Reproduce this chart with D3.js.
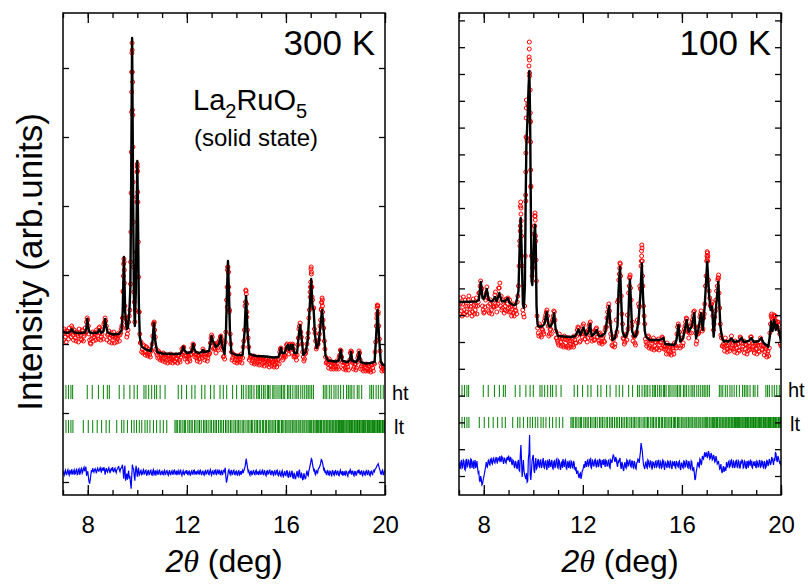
<!DOCTYPE html>
<html>
<head>
<meta charset="utf-8">
<script src="https://cdn.jsdelivr.net/npm/d3@7"></script>
<style>
  html, body { margin: 0; padding: 0; background: #fff; }
  svg { display: block; font-family: "Liberation Sans", Arial, Helvetica, sans-serif; }
</style>
</head>
<body>
<svg id="chart" width="808" height="585"></svg>
<script>
// ---------------- data ----------------
const xDomain = [7, 20];
const xMinorTicks = [7, 8, 9, 10, 11, 12, 13, 14, 15, 16, 17, 18, 19, 20];
const xTickLabels = [8, 12, 16, 20];

// observed scans: two interleaved grids (2theta start, step in deg)
const scanStartA = 7.0;
const scanStartB = 7.025;
const scanStep = 0.05;

// ---- 300 K ----
const calc300 = [
  [7.00,1500],[7.20,1490],[7.30,1505],[7.35,1530],[7.45,1495],[7.70,1490],[7.90,1495],[7.94,1540],[7.98,1630],[8.02,1540],
  [8.08,1495],[8.20,1490],[8.40,1495],[8.47,1525],[8.54,1490],[8.63,1510],[8.67,1570],[8.70,1630],[8.74,1560],[8.80,1497],
  [9.00,1475],[9.25,1480],[9.36,1510],[9.41,1700],[9.46,2250],[9.51,1700],[9.57,1530],[9.62,1540],[9.68,1700],[9.72,1950],
  [9.75,2900],[9.79,4440],[9.83,2900],[9.86,1900],[9.90,1560],[9.94,1900],[9.97,2600],[10.00,3210],[10.03,2600],[10.06,1800],
  [10.10,1450],[10.18,1350],[10.40,1320],[10.55,1310],[10.62,1420],[10.67,1590],[10.72,1420],[10.80,1300],[11.00,1285],[11.50,1280],
  [11.75,1285],[11.82,1320],[11.86,1355],[11.90,1320],[12.00,1290],[12.18,1300],[12.22,1330],[12.26,1380],[12.30,1330],[12.36,1300],
  [12.50,1290],[12.60,1300],[12.65,1320],[12.70,1300],[12.90,1310],[12.96,1400],[13.00,1460],[13.05,1410],[13.18,1350],[13.30,1380],
  [13.37,1460],[13.44,1350],[13.52,1280],[13.58,1500],[13.62,1900],[13.66,2210],[13.70,1900],[13.74,1500],[13.80,1290],[14.00,1270],
  [14.25,1270],[14.33,1500],[14.39,1860],[14.45,1500],[14.52,1280],[14.80,1260],[15.20,1255],[15.50,1245],[15.70,1250],[15.76,1300],
  [15.80,1340],[15.84,1290],[15.95,1290],[16.02,1350],[16.07,1370],[16.12,1320],[16.18,1370],[16.23,1330],[16.28,1370],[16.34,1290],
  [16.45,1290],[16.51,1450],[16.57,1570],[16.63,1450],[16.70,1270],[16.80,1300],[16.88,1420],[16.95,1700],[17.02,2030],[17.07,1760],
  [17.12,1720],[17.17,1480],[17.24,1340],[17.32,1380],[17.39,1560],[17.46,1720],[17.53,1500],[17.60,1260],[17.70,1215],[18.00,1205],
  [18.14,1215],[18.21,1320],[18.28,1210],[18.50,1200],[18.58,1220],[18.63,1300],[18.68,1210],[18.85,1200],[18.91,1230],[18.96,1300],
  [19.02,1200],[19.20,1185],[19.40,1190],[19.58,1200],[19.64,1450],[19.70,1720],[19.76,1450],[19.83,1200],[19.92,1170],[20.00,1170]
];
const obsScanA300 = [
  1480,1530,1450,1510,1470,1540,1490,1560,1470,1520,1440,1500,1460,1530,1470,1420,1510,1460,1540,1600,
  1620,1480,1390,1430,1500,1450,1470,1520,1460,1540,1490,1450,1520,1580,1640,1560,1470,1510,1440,1490,
  1450,1500,1440,1470,1430,1490,1470,1530,1640,2180,1760,1540,1480,1600,1720,2890,4100,2150,1600,2050,
  3150,2050,1480,1400,1330,1370,1300,1350,1280,1330,1270,1320,1380,1580,1520,1330,1270,1310,1240,1280,
  1230,1290,1240,1270,1220,1260,1230,1280,1220,1250,1210,1270,1230,1260,1220,1250,1330,1340,1290,1260,
  1240,1280,1230,1270,1340,1380,1300,1270,1240,1270,1230,1280,1260,1330,1270,1250,1290,1240,1280,1390,
  1470,1390,1340,1330,1370,1340,1400,1450,1430,1320,1260,1400,1820,2150,1880,1480,1300,1240,1270,1220,
  1260,1210,1250,1230,1280,1240,1410,1760,1880,1520,1350,1240,1250,1210,1260,1200,1240,1200,1250,1210,
  1230,1190,1240,1200,1230,1190,1220,1180,1230,1190,1210,1170,1220,1190,1230,1300,1340,1270,1240,1270,
  1330,1380,1320,1370,1340,1370,1330,1260,1250,1270,1440,1560,1500,1380,1250,1230,1290,1380,1490,1720,
  2000,1950,1740,1530,1410,1350,1380,1480,1620,1790,1620,1410,1250,1200,1180,1230,1160,1200,1150,1190,
  1160,1210,1150,1250,1320,1250,1170,1190,1140,1180,1150,1200,1290,1300,1190,1150,1180,1140,1240,1310,
  1220,1160,1130,1170,1140,1180,1130,1160,1120,1170,1140,1190,1300,1560,1760,1560,1310,1150,1130,1160,
  1140
];
const obsScanB300 = [
  1420,1510,1400,1480,1430,1500,1450,1540,1420,1490,1410,1480,1400,1490,1430,1520,1410,1480,1500,1640,
  1560,1420,1380,1470,1410,1490,1420,1500,1430,1550,1420,1480,1430,1600,1610,1420,1480,1400,1470,1390,
  1460,1390,1450,1400,1460,1410,1490,1560,1910,2120,1600,1450,1520,1660,1980,3900,3350,1800,1720,2850,
  2800,1700,1390,1300,1290,1360,1270,1350,1260,1300,1250,1310,1460,1590,1450,1290,1240,1300,1220,1270,
  1210,1280,1200,1250,1190,1270,1200,1240,1190,1260,1200,1240,1190,1270,1200,1280,1300,1350,1230,1270,
  1200,1260,1210,1280,1320,1370,1250,1280,1210,1260,1200,1280,1240,1310,1220,1280,1210,1270,1290,1440,
  1450,1330,1380,1290,1390,1320,1420,1460,1360,1250,1230,1500,1950,2100,1720,1380,1220,1280,1200,1250,
  1190,1260,1200,1250,1190,1350,1520,1800,1700,1440,1220,1260,1190,1240,1180,1250,1180,1230,1170,1240,
  1170,1220,1160,1230,1170,1210,1150,1220,1160,1200,1150,1200,1150,1220,1180,1330,1290,1220,1260,1250,
  1370,1330,1280,1380,1290,1380,1250,1280,1220,1370,1530,1590,1450,1300,1210,1280,1320,1440,1640,1900,
  2080,1820,1740,1490,1330,1370,1420,1560,1730,1760,1540,1330,1190,1220,1140,1200,1130,1190,1130,1180,
  1130,1190,1130,1270,1310,1200,1130,1190,1120,1180,1120,1220,1310,1210,1130,1180,1120,1200,1270,1290,
  1130,1180,1110,1170,1110,1170,1110,1160,1100,1170,1110,1180,1400,1680,1700,1430,1190,1110,1150,1110
];
const obsPeaks300 = [
  [9.43,1900],[9.44,2060],[9.46,2230],[9.47,2200],[9.48,1990],[9.52,1640],
  [9.73,2200],[9.74,2500],[9.76,3300],[9.77,3700],[9.775,4100],[9.78,4290],[9.79,4390],[9.795,4320],[9.805,3720],[9.81,4000],
  [9.82,3670],[9.83,3000],[9.84,2600],[9.86,1900],
  [9.96,2300],[9.98,2800],[9.99,3100],[10.00,3180],[10.01,3110],[10.02,2900],[10.04,2400],[10.07,1700],
  [10.66,1570],[10.68,1600],
  [13.63,1750],[13.64,2120],[13.66,2150],[13.68,2100],[13.69,1950],[13.71,1700],
  [14.37,1800],[14.38,1920],[14.39,1910],[14.41,1780],[14.42,1650],
  [16.98,1850],[16.99,1950],[17.01,2130],[17.02,2150],[17.03,2100],[17.04,1950],[17.06,1850],
  [17.43,1720],[17.44,1800],[17.46,1840],[17.47,1820],[17.48,1700],
  [19.67,1640],[19.68,1740],[19.69,1770],[19.71,1760],[19.72,1680]
];
// residual (obs - calc) on the A and B grids
const diffA300 = [
  20,-25,25,-20,30,-25,15,35,-20,30,-10,35,-15,40,0,45,10,55,35,-30,
  15,-90,-70,25,45,5,40,-5,45,15,50,0,40,55,-20,45,5,50,-5,40,
  55,5,45,0,40,60,10,45,80,-60,70,-40,-70,20,-30,-160,80,40,-80,70,
  -40,50,-15,25,-15,30,-10,25,-20,20,-15,25,-25,30,-10,-30,20,-15,25,-20,
  15,-20,25,-15,20,-25,25,-20,20,-15,25,-10,-25,20,-15,25,-30,20,-20,15,
  25,-20,15,-25,20,-15,25,-10,-20,20,-15,25,-20,15,-25,20,-10,25,-20,30,
  -25,20,-15,25,-20,15,30,-25,20,-15,25,50,-100,-30,30,-20,20,-15,25,-20,
  15,-25,20,-10,-20,25,20,60,140,50,20,-25,15,-15,20,-20,25,-10,-25,20,
  -15,25,-20,15,-30,20,-10,25,-20,15,-25,20,-15,25,-30,15,-35,20,-40,15,
  -30,25,-50,10,-35,20,-60,-20,-55,15,-40,30,-50,-25,-65,-30,-55,20,-30,40,
  100,130,50,30,-20,15,30,50,90,125,70,40,20,-20,15,-25,10,-30,15,-25,
  20,-20,15,-30,25,-15,-30,15,-25,10,-35,15,30,-20,15,-30,10,-25,20,30,
  -20,15,-30,10,-25,20,-20,15,-30,15,-20,25,35,55,80,65,25,-15,25,-20,
  15
];
const diffB300 = [
  -10,10,-15,15,-10,20,-20,5,15,-15,25,-20,30,-20,35,-5,40,15,60,-10,
  -40,-110,-20,5,20,30,15,30,20,35,25,45,20,30,25,15,35,20,30,25,
  25,35,15,30,55,25,40,60,20,30,-80,-10,-20,-60,-100,-40,50,-30,10,20,
  20,-25,15,-20,15,-15,20,-25,15,-20,20,-20,15,-20,25,5,-15,20,-20,10,
  -15,15,-20,15,-10,5,-15,10,-15,20,-15,20,5,-15,20,-15,5,-15,10,-10,
  -15,10,-20,10,-15,20,-15,15,5,-10,20,-15,10,-15,10,-15,20,-15,15,-10,
  15,-15,20,-15,25,-15,5,15,-20,20,10,-40,-70,20,-5,15,-20,20,-15,10,
  -20,15,-20,15,10,-5,40,100,90,10,-10,10,-20,15,-15,15,-15,15,5,-15,
  15,-15,20,-20,15,-15,20,-15,15,-15,15,-20,20,-20,5,-25,5,-30,-5,-25,
  10,-30,0,-40,5,-45,0,-60,-10,-30,15,-45,0,-70,-5,-60,-10,-20,15,70,
  140,80,20,-10,20,-10,45,70,130,100,30,0,-15,20,-20,15,-20,20,-15,15,
  -15,15,-25,10,-10,15,-10,-20,15,-20,5,-10,15,10,-20,10,-25,15,-5,0,
  10,-20,15,-20,15,-15,20,-20,10,-15,15,10,40,70,90,40,-10,15,-20,20
];

// ---- 100 K ----
const calc100 = [
  [7.00,1740],[7.70,1745],[7.80,1760],[7.88,1940],[7.95,1780],[8.00,1770],[8.05,1800],[8.12,1870],[8.20,1760],[8.35,1745],
  [8.45,1790],[8.52,1750],[8.63,1830],[8.72,1750],[8.85,1745],[8.97,1780],[9.05,1730],[9.20,1710],[9.30,1715],[9.40,1850],
  [9.45,2300],[9.49,2580],[9.53,2250],[9.58,1720],[9.62,1680],[9.66,1900],[9.69,2700],[9.72,3300],[9.77,3600],[9.81,3900],
  [9.84,4050],[9.87,3600],[9.90,2700],[9.93,1950],[9.96,1910],[10.00,2100],[10.04,2420],[10.07,2510],[10.10,2300],[10.13,1700],
  [10.17,1520],[10.20,1495],[10.35,1495],[10.45,1520],[10.54,1640],[10.62,1500],[10.70,1495],[10.78,1540],[10.84,1630],[10.90,1470],
  [11.00,1400],[11.50,1390],[11.70,1400],[11.82,1465],[11.90,1410],[12.02,1485],[12.12,1410],[12.22,1430],[12.29,1520],[12.36,1400],
  [12.46,1420],[12.56,1460],[12.65,1400],[12.76,1400],[12.90,1430],[13.00,1600],[13.06,1700],[13.12,1500],[13.20,1360],[13.30,1380],
  [13.40,1500],[13.44,1850],[13.50,2090],[13.55,1750],[13.60,1450],[13.66,1400],[13.72,1390],[13.82,1450],[13.86,1750],[13.90,1965],
  [13.94,1750],[13.99,1450],[14.07,1393],[14.15,1400],[14.25,1560],[14.32,1800],[14.38,2125],[14.43,1800],[14.50,1450],[14.55,1393],
  [14.70,1360],[15.10,1360],[15.20,1370],[15.25,1380],[15.32,1320],[15.70,1310],[15.78,1360],[15.86,1510],[15.93,1343],[16.05,1380],
  [16.19,1560],[16.27,1443],[16.40,1500],[16.50,1633],[16.57,1377],[16.66,1460],[16.77,1627],[16.84,1460],[16.92,1700],[17.02,2143],
  [17.10,1800],[17.16,1660],[17.22,1693],[17.28,1393],[17.38,1700],[17.47,1943],[17.55,1500],[17.62,1377],[17.70,1343],[17.80,1350],
  [17.90,1345],[18.00,1375],[18.10,1340],[18.30,1350],[18.40,1380],[18.50,1340],[18.70,1350],[18.80,1380],[18.90,1340],[19.10,1350],
  [19.20,1380],[19.30,1330],[19.49,1293],[19.55,1400],[19.60,1543],[19.66,1450],[19.73,1560],[19.79,1460],[19.85,1510],[19.92,1450],
  [20.00,1343]
];
const obsScanA100 = [
  1690,1780,1650,1720,1660,1760,1640,1700,1800,1670,1730,1640,1710,1660,1780,1700,1830,1900,1880,1700,
  1630,1690,1830,1780,1650,1720,1660,1740,1690,1810,1700,1750,1880,1930,1800,1680,1740,1660,1770,1720,
  1680,1760,1640,1700,1630,1690,1650,1740,1900,2350,2620,2100,1620,1700,2750,3350,3700,4000,2900,2000,
  2150,2500,2350,1600,1430,1520,1410,1470,1440,1550,1610,1660,1500,1420,1470,1540,1600,1640,1450,1380,
  1330,1420,1340,1370,1310,1400,1330,1360,1300,1380,1320,1350,1310,1400,1330,1400,1490,1420,1350,1420,
  1500,1440,1370,1440,1380,1500,1540,1380,1440,1360,1450,1480,1390,1350,1430,1340,1380,1350,1460,1490,
  1640,1720,1540,1380,1300,1390,1320,1560,1740,1960,2130,1800,1520,1370,1340,1420,1610,1830,1990,1760,
  1540,1400,1330,1420,1560,1720,1900,2100,2150,1700,1520,1340,1320,1400,1300,1350,1290,1380,1300,1340,
  1280,1370,1310,1330,1390,1300,1290,1260,1330,1250,1290,1240,1300,1250,1330,1300,1420,1520,1440,1300,
  1380,1330,1470,1540,1570,1440,1430,1500,1530,1600,1650,1430,1350,1420,1500,1620,1570,1470,1620,1900,
  2150,2200,1850,1700,1720,1600,1520,1650,1850,1960,1830,1520,1380,1300,1290,1380,1300,1270,1330,1280,
  1400,1310,1270,1350,1280,1320,1260,1390,1330,1290,1350,1270,1310,1250,1330,1300,1390,1290,1260,1330,
  1270,1300,1250,1340,1310,1260,1300,1240,1270,1220,1200,1430,1600,1560,1580,1560,1530,1540,1510,1420,
  1300
];
const obsScanB100 = [
  1620,1730,1600,1790,1620,1700,1610,1760,1630,1690,1600,1770,1620,1700,1620,1740,1830,1950,1870,1660,
  1640,1760,1890,1700,1630,1760,1620,1700,1690,1840,1640,1720,1880,1700,1660,1760,1630,1700,1650,1780,
  1640,1690,1600,1720,1600,1660,1620,1800,2100,2500,2400,1660,1590,2200,3380,3720,4100,3550,2200,2080,
  2420,2600,1950,1480,1400,1500,1390,1460,1420,1580,1640,1600,1400,1460,1420,1560,1650,1560,1380,1350,
  1310,1390,1300,1380,1290,1370,1290,1380,1280,1350,1290,1370,1290,1360,1330,1460,1480,1340,1440,1390,
  1520,1370,1420,1340,1460,1520,1400,1350,1440,1360,1470,1390,1430,1330,1410,1320,1400,1340,1490,1580,
  1690,1650,1420,1310,1360,1290,1400,1440,1760,2020,2000,1620,1380,1320,1400,1360,1470,1900,1880,1500,
  1350,1390,1310,1440,1530,1690,1870,2200,1900,1600,1370,1300,1390,1280,1360,1270,1350,1260,1340,1270,
  1350,1260,1340,1280,1380,1270,1300,1220,1300,1220,1290,1210,1280,1220,1310,1280,1490,1500,1280,1370,
  1300,1440,1500,1580,1470,1380,1490,1430,1560,1640,1490,1320,1440,1430,1590,1650,1450,1580,1720,2000,
  2180,1960,1780,1720,1740,1460,1590,1760,1900,1980,1680,1410,1300,1320,1250,1340,1240,1310,1250,1360,
  1280,1330,1240,1310,1230,1320,1250,1380,1270,1330,1230,1320,1220,1300,1260,1390,1270,1330,1230,1310,
  1220,1310,1240,1380,1270,1300,1210,1290,1190,1250,1280,1520,1580,1540,1600,1550,1500,1540,1460,1320
];
const obsPeaks100 = [
  [9.46,2300],[9.47,2450],[9.48,2700],[9.49,2740],[9.50,2680],[9.51,2550],
  [9.69,2810],[9.695,3040],[9.70,3230],[9.705,3390],[9.71,3580],[9.715,3680],[9.72,3760],
  [9.83,4190],[9.835,4270],[9.84,4340],[9.845,4160],[9.85,4030],
  [9.875,3860],[9.88,3630],[9.885,3540],[9.89,3340],[9.895,3060],[9.90,2890],
  [10.05,2500],[10.06,2600],[10.07,2630],[10.08,2560],[10.09,2400],[10.11,2160],
  [13.49,2080],[13.51,2120],[13.89,1980],[13.91,2010],
  [14.36,2150],[14.37,2250],[14.38,2310],[14.39,2280],[14.41,2000],
  [17.01,2200],[17.02,2243],[17.03,2230],[17.04,2150],
  [17.46,1980],[17.48,2010],
  [19.62,1620],[19.72,1610],[19.77,1600]
];
const diffA100 = [
  30,-40,50,-20,40,-50,60,-10,45,-35,55,0,-40,50,-5,-30,-70,-170,-140,-190,
  -120,-50,30,-20,50,0,65,10,70,20,80,15,60,90,30,75,10,65,20,80,
  95,30,70,0,40,-30,25,-40,50,-60,200,-120,50,-100,-140,-170,60,300,-150,40,
  100,-80,70,-30,60,-20,50,-10,70,-30,40,-50,30,60,-20,50,-40,40,-10,60,
  -30,40,-50,30,60,-20,50,-40,20,45,-35,30,-30,20,-50,-90,-60,-130,-80,-110,
  -50,10,40,-20,50,0,60,-30,40,-10,55,-25,45,-5,50,-30,35,60,-20,40,
  -10,50,-30,40,70,90,30,60,-20,30,70,-40,10,-60,30,-30,40,0,50,-20,
  40,-30,20,-40,30,50,80,220,140,0,-40,30,-30,40,-20,35,-45,25,-30,40,
  -10,45,-35,30,-20,40,-50,20,-30,35,-25,30,-40,20,40,-30,25,-20,40,-50,
  20,-30,35,-10,40,-30,20,-40,30,-60,-80,-135,-40,30,-20,50,20,70,100,80,
  120,90,110,70,100,60,80,40,60,20,0,-30,-60,-40,-70,-20,30,-20,40,-10,
  50,-30,30,-10,45,-25,35,-35,20,40,-20,30,-40,25,45,-10,35,-30,20,40,
  -25,30,-20,40,-10,35,-30,25,-20,40,10,40,20,60,0,40,110,30,70,20,
  -10
];
const diffB100 = [
  -20,30,-30,50,-40,40,-20,50,-10,60,-30,45,20,-30,40,-80,-150,-110,-200,-150,
  -90,-20,-10,40,10,55,20,60,30,55,40,75,45,50,85,40,70,30,60,45,
  60,75,20,50,-10,40,-20,30,-50,100,40,-40,-60,-120,-80,-160,120,-100,-60,80,
  -50,20,-40,40,-10,45,-30,40,-20,35,-20,40,-30,10,30,-30,30,-30,50,-20,
  50,-20,20,-30,10,40,-30,30,-30,-10,40,-20,40,-40,-20,-60,-110,-90,-140,-60,
  -20,-30,10,40,-10,50,-20,50,-10,45,0,40,-20,55,-10,50,0,20,50,-10,
  40,-20,50,20,100,50,80,10,40,50,-10,30,-40,0,-20,50,-10,45,-10,40,
  -20,40,-30,20,60,20,130,180,60,-20,20,-20,50,-10,40,-20,30,-10,35,-20,
  40,-20,40,-30,50,-20,30,-10,40,-20,45,-20,30,-10,-20,40,-10,30,-30,20,
  -20,40,-20,45,-20,40,-30,40,-40,-20,-150,-70,10,-10,60,0,90,60,130,110,
  70,140,60,120,50,100,30,90,10,40,-40,10,-80,-10,-40,-60,-10,30,-20,40,
  -10,40,-30,40,-20,45,-20,30,50,-30,40,-20,40,-30,20,45,-20,30,-10,-20,
  40,-20,45,-20,40,-20,40,-30,45,-10,60,0,80,30,70,130,50,90,40,30
];

// Bragg reflection positions (2theta, deg)
const htTicks = [
  7.12,7.22,7.32,7.39,7.98,8.18,8.43,8.63,8.79,8.87,9.27,9.46,9.70,9.87,10.00,10.27,10.35,10.46,10.58,10.70,
  10.78,10.92,11.12,11.65,11.79,11.99,12.20,12.33,12.60,12.73,12.96,13.10,13.34,13.47,13.61,13.85,14.01,14.21,14.28,14.39,
  14.48,14.55,14.62,14.71,14.82,14.88,14.93,15.02,15.10,15.16,15.25,15.30,15.36,15.47,15.52,15.60,15.68,15.76,15.82,15.89,
  15.95,16.06,16.12,16.19,16.28,16.37,16.44,16.50,16.60,16.68,16.76,16.84,16.90,16.97,17.04,17.11,17.51,17.58,17.65,17.75,
  17.83,17.94,18.02,18.11,18.21,18.32,18.45,18.52,18.59,18.66,18.75,18.88,18.95,19.06,19.39,19.46,19.53,19.64,19.73,19.83,
  19.93
];
const ltTicks = [
  7.12,7.22,7.32,7.40,7.82,8.02,8.20,8.38,8.56,8.74,8.87,9.17,9.37,9.46,9.60,9.77,9.87,9.97,10.08,10.18,
  10.31,10.40,10.51,10.65,10.78,10.92,11.05,11.19,11.52,11.57,11.63,11.71,11.76,11.84,11.90,11.95,12.04,12.10,12.17,12.22,
  12.31,12.37,12.45,12.51,12.58,12.67,12.73,12.79,12.86,12.94,13.00,13.08,13.14,13.20,13.28,13.35,13.41,13.48,13.56,13.62,
  13.69,13.76,13.82,13.90,13.96,14.03,14.09,14.15,14.23,14.28,14.35,14.43,14.48,14.55,14.61,14.66,14.74,14.80,14.85,14.92,
  14.98,15.06,15.10,15.17,15.22,15.29,15.35,15.40,15.47,15.52,15.58,15.65,15.70,15.75,15.82,15.87,15.92,15.99,16.04,16.09,
  16.16,16.20,16.26,16.32,16.37,16.42,16.49,16.53,16.58,16.65,16.69,16.74,16.81,16.85,16.90,16.96,17.00,17.04,17.10,17.13,
  17.18,17.23,17.27,17.31,17.37,17.40,17.44,17.50,17.53,17.57,17.62,17.65,17.69,17.74,17.77,17.81,17.86,17.89,17.93,17.98,
  18.01,18.05,18.10,18.12,18.16,18.21,18.24,18.28,18.32,18.35,18.39,18.43,18.46,18.50,18.54,18.57,18.60,18.65,18.68,18.71,
  18.76,18.78,18.82,18.86,18.89,18.92,18.97,18.99,19.03,19.07,19.10,19.13,19.18,19.20,19.23,19.28,19.30,19.34,19.38,19.40,
  19.44,19.48,19.50,19.54,19.58,19.60,19.64,19.68,19.70,19.73,19.78,19.80,19.83,19.88,19.90,19.93,19.97,20.00
];

// ---------------- drawing ----------------
const svg = d3.select("#chart");
const plotTop = 13, plotBottom = 495, plotWidth = 322;

const panels = [
  { left: 63, temp: "300 K", calc: calc300, scanA: obsScanA300, scanB: obsScanB300, peaks: obsPeaks300,
    diffA: diffA300, diffB: diffB300, diffOffset: 93, yDomain: [-130, 4690], yTickStep: 690,
    htRow: [385, 399], ltRow: [420, 433], htLabelY: 400, ltLabelY: 434, showCompound: true },
  { left: 459, temp: "100 K", calc: calc100, scanA: obsScanA100, scanB: obsScanB100, peaks: obsPeaks100,
    diffA: diffA100, diffB: diffB100, diffOffset: 110, yDomain: [-190, 4630], yTickStep: 268,
    htRow: [385, 397], ltRow: [417, 428], htLabelY: 397, ltLabelY: 431, showCompound: false }
];

// pair a grid of values with its 2theta positions
const onGrid = (vals, start) => vals.map((v, i) => [start + i * scanStep, v]);

panels.forEach((p, k) => {
  const x = d3.scaleLinear().domain(xDomain).range([p.left, p.left + plotWidth]);
  const y = d3.scaleLinear().domain(p.yDomain).range([plotBottom, plotTop]);
  const g = svg.append("g").attr("class", "panel-" + k);

  const clipId = "clip" + k;
  svg.append("clipPath").attr("id", clipId).append("rect")
    .attr("x", p.left).attr("y", plotTop).attr("width", plotWidth).attr("height", plotBottom - plotTop);
  const inner = g.append("g").attr("clip-path", `url(#${clipId})`);

  // observed points
  const obs = onGrid(p.scanA, scanStartA).concat(onGrid(p.scanB, scanStartB)).concat(p.peaks);
  inner.append("g").selectAll("circle").data(obs).join("circle")
    .attr("cx", d => x(d[0])).attr("cy", d => y(d[1])).attr("r", 2)
    .attr("fill", "none").attr("stroke", "#ff0000").attr("stroke-width", 1);

  // calculated profile
  inner.append("path").datum(p.calc)
    .attr("d", d3.line().x(d => x(d[0])).y(d => y(d[1])))
    .attr("fill", "none").attr("stroke", "#000").attr("stroke-width", 2.4)
    .attr("stroke-linejoin", "round");

  // Bragg positions
  [[htTicks, p.htRow], [ltTicks, p.ltRow]].forEach(([ticks, row]) => {
    inner.append("g").selectAll("line").data(ticks).join("line")
      .attr("x1", d => x(d)).attr("x2", d => x(d))
      .attr("y1", row[0]).attr("y2", row[1])
      .attr("stroke", "#008000").attr("stroke-width", 1);
  });

  // difference curve (obs - calc), shifted below the Bragg rows
  const diffPts = onGrid(p.diffA, scanStartA).concat(onGrid(p.diffB, scanStartB))
    .sort((a, b) => a[0] - b[0])
    .map(d => [d[0], p.diffOffset + d[1]]);
  inner.append("path").datum(diffPts)
    .attr("d", d3.line().x(d => x(d[0])).y(d => y(d[1])))
    .attr("fill", "none").attr("stroke", "#0000ff").attr("stroke-width", 1.2);

  // axes (ticks pointing inward)
  const yTicks = d3.range(0, p.yDomain[1], p.yTickStep);
  const addAxis = (axis, transform) => {
    const a = g.append("g").attr("transform", transform).call(axis);
    a.select(".domain").remove();
    a.selectAll(".tick line").attr("stroke", "#000").attr("stroke-width", 1.3);
    return a;
  };
  addAxis(d3.axisBottom(x).tickValues(xMinorTicks).tickSize(-5).tickFormat(""), `translate(0,${plotBottom})`);
  addAxis(d3.axisTop(x).tickValues(xMinorTicks).tickSize(-5).tickFormat(""), `translate(0,${plotTop})`);
  addAxis(d3.axisTop(x).tickValues(xTickLabels).tickSize(-10).tickFormat(""), `translate(0,${plotTop})`);
  const bx = addAxis(d3.axisBottom(x).tickValues(xTickLabels).tickSize(-10).tickPadding(21).tickFormat(d3.format("d")),
    `translate(0,${plotBottom})`);
  bx.selectAll("text").attr("font-size", 24).attr("fill", "#000")
    .attr("font-family", '"Liberation Sans", Arial, sans-serif');
  addAxis(d3.axisLeft(y).tickValues(yTicks).tickSize(-6).tickFormat(""), `translate(${p.left},0)`);
  addAxis(d3.axisRight(y).tickValues(yTicks).tickSize(-6).tickFormat(""), `translate(${p.left + plotWidth},0)`);

  // frame
  g.append("rect").attr("x", p.left).attr("y", plotTop).attr("width", plotWidth).attr("height", plotBottom - plotTop)
    .attr("fill", "none").attr("stroke", "#000").attr("stroke-width", 1.5);

  // temperature label
  g.append("text").attr("x", p.left + plotWidth - 10).attr("y", 55).attr("text-anchor", "end")
    .attr("font-size", 35).text(p.temp);

  // phase labels
  g.append("text").attr("x", p.left + plotWidth + 7).attr("y", p.htLabelY).attr("font-size", 20).text("ht");
  g.append("text").attr("x", p.left + plotWidth + 9).attr("y", p.ltLabelY).attr("font-size", 20).text("lt");

  // x-axis title
  const xt = g.append("text").attr("x", p.left + plotWidth / 2).attr("y", 572)
    .attr("text-anchor", "middle").attr("font-size", 32);
  xt.append("tspan").attr("font-style", "italic").text("2");
  xt.append("tspan").attr("font-style", "italic").attr("font-family", '"Liberation Serif", "Times New Roman", serif').text("θ");
  xt.append("tspan").text(" (deg)");

  if (p.showCompound) {
    const c = g.append("text").attr("x", p.left + 130).attr("y", 110).attr("font-size", 29);
    c.append("tspan").text("La");
    c.append("tspan").attr("font-size", 20).attr("dy", 8).text("2");
    c.append("tspan").attr("dy", -8).text("RuO");
    c.append("tspan").attr("font-size", 20).attr("dy", 8).text("5");
    g.append("text").attr("x", p.left + 131).attr("y", 146).attr("font-size", 24).text("(solid state)");
  }
});

// y-axis title
svg.append("text").attr("transform", "translate(42,262) rotate(-90)")
  .attr("text-anchor", "middle").attr("font-size", 35).text("Intensity (arb.units)");
</script>
</body>
</html>
